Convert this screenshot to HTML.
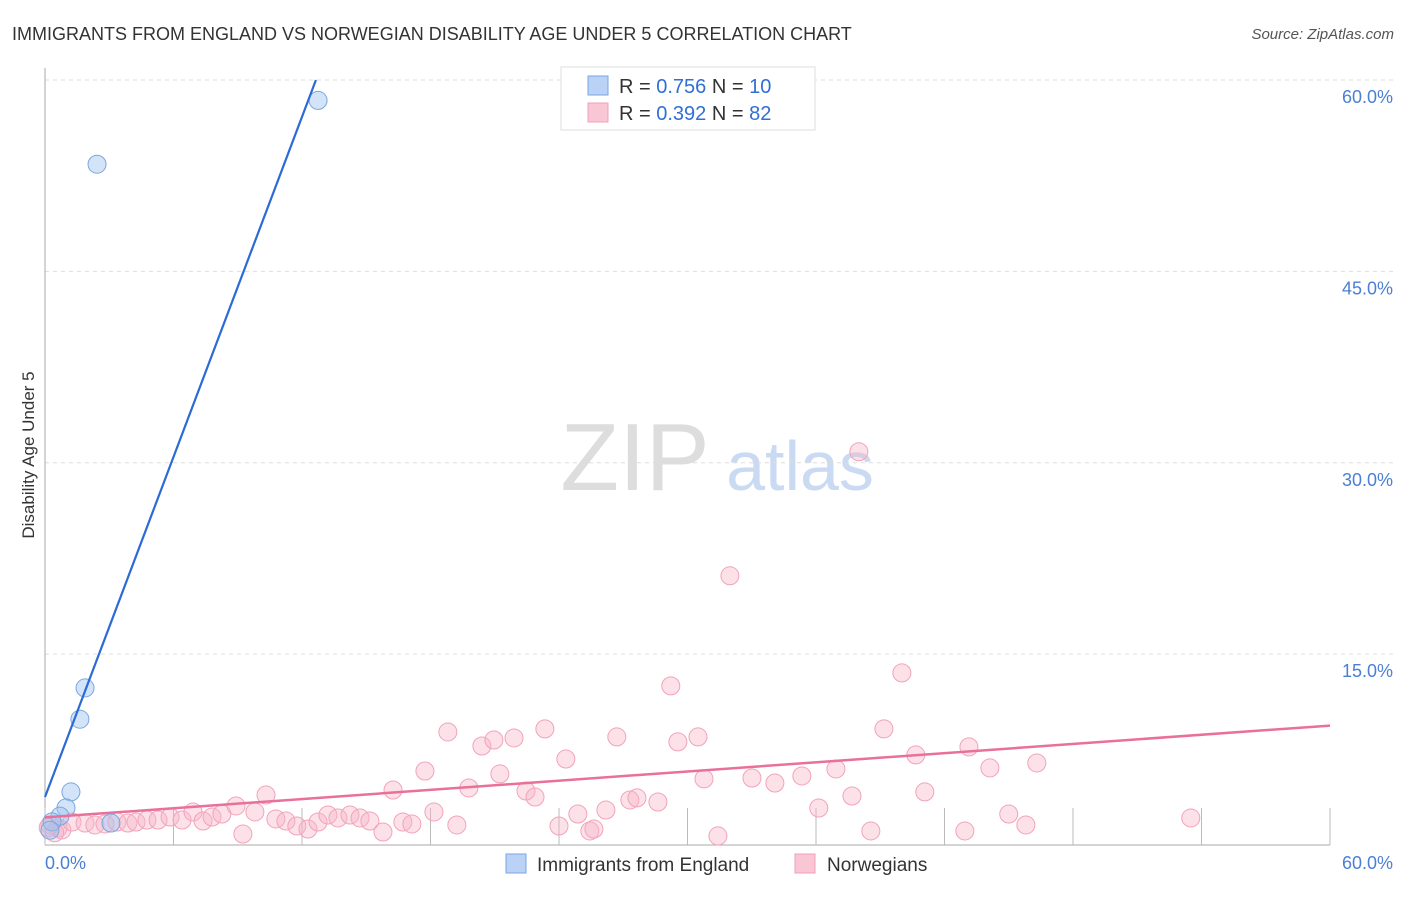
<!DOCTYPE html>
<html><head><meta charset="utf-8"><style>
body{margin:0;background:#fff;font-family:"Liberation Sans",sans-serif;}
svg text{font-family:"Liberation Sans",sans-serif;}
</style></head><body>
<svg id="chart" width="1406" height="892" viewBox="0 0 1406 892" xmlns="http://www.w3.org/2000/svg">
<text x="12" y="40" font-size="18" fill="#333">IMMIGRANTS FROM ENGLAND VS NORWEGIAN DISABILITY AGE UNDER 5 CORRELATION CHART</text>
<text x="1394" y="39" font-size="15" fill="#555" font-style="italic" text-anchor="end">Source: ZipAtlas.com</text>
<text transform="translate(34,455) rotate(-90)" font-size="17" fill="#333" text-anchor="middle">Disability Age Under 5</text>
<g>
<text x="635" y="490" font-size="96" fill="#ddd" font-family="Liberation Serif" text-anchor="middle">ZIP</text>
<text x="800" y="490" font-size="70" fill="#c9daf2" text-anchor="middle">atlas</text>
</g>
<g id="grid"></g><g id="axes"></g><g id="marks"></g>
<g>
<rect x="561" y="67" width="254" height="63" fill="#fff" stroke="#ddd"/>
<rect x="588" y="76" width="20" height="19" fill="#b9d2f5" stroke="#7aa6e0"/>
<text x="619" y="93" font-size="20" fill="#333">R = <tspan fill="#2f6fd6">0.756</tspan>   N = <tspan fill="#2f6fd6">10</tspan></text>
<rect x="588" y="103" width="20" height="19" fill="#f9c6d5" stroke="#f0a0b8"/>
<text x="619" y="120" font-size="20" fill="#333">R = <tspan fill="#2f6fd6">0.392</tspan>   N = <tspan fill="#2f6fd6">82</tspan></text>
</g>
<g>
<rect x="506" y="854" width="20" height="19" fill="#b9d2f5" stroke="#7aa6e0"/>
<text x="537" y="871" font-size="19" fill="#333">Immigrants from England</text>
<rect x="795" y="854" width="20" height="19" fill="#f9c6d5" stroke="#f0a0b8"/>
<text x="827" y="871" font-size="19" fill="#333">Norwegians</text>
</g>
</svg>
<script>
const yTicks=[15,30,45,60];
const yTickLabels=["15.0%","30.0%","45.0%","60.0%"];
const xTickLabels=["0.0%","60.0%"];
const englandX=[12.75,2.43,1.87,1.63,1.21,0.98,0.7,0.33,3.08,0.23];
const englandY=[58.4,53.4,12.35,9.9,4.2,2.95,2.3,1.85,1.76,1.2];
const norX=[0.23,0.61,0.79,1.26,1.87,2.33,2.80,3.36,3.87,4.25,4.76,5.28,5.84,6.40,6.91,7.38,7.80,8.26,8.92,9.24,9.80,10.32,10.78,11.25,11.76,12.28,12.75,13.21,13.68,14.24,14.71,15.17,15.78,16.25,16.71,17.13,17.74,18.16,18.81,19.23,19.79,20.40,20.96,21.24,21.90,22.46,22.88,23.34,24.00,24.32,24.88,25.44,25.63,26.19,26.70,27.31,27.64,28.62,29.22,29.55,30.49,30.77,31.42,31.98,33.01,34.08,35.34,36.13,36.93,37.68,38.00,38.56,39.17,40.01,40.66,41.08,42.95,43.14,44.12,45.00,45.80,46.31,53.50,0.45,0.15];
const norY=[1.61,1.37,1.22,1.84,1.76,1.61,1.69,1.84,1.76,1.84,2.0,2.0,2.23,2.0,2.63,1.92,2.23,2.47,3.10,0.90,2.63,3.96,2.08,1.92,1.53,1.29,1.84,2.39,2.16,2.39,2.16,1.92,1.06,4.35,1.84,1.69,5.84,2.63,8.90,1.61,4.51,7.80,8.27,5.61,8.43,4.27,3.80,9.14,1.53,6.78,2.47,1.14,1.29,2.78,8.51,3.57,3.73,3.41,12.51,8.12,8.51,5.22,0.75,21.14,5.29,4.90,5.45,2.94,6.0,3.88,30.86,1.14,9.14,13.53,7.10,4.20,1.14,7.73,6.08,2.47,1.61,6.47,2.16,1.0,1.4];
const englandLine=[[0,3.8],[12.65,60]];
const norLine=[[0,2.2],[60,9.4]];
const NS="http://www.w3.org/2000/svg";
const sx=v=>45+v*(1285/60);
const sy=v=>845.5-v*(765.5/60);
function mk(tag,attrs,parent){const e=document.createElementNS(NS,tag);for(const k in attrs)e.setAttribute(k,attrs[k]);parent.appendChild(e);return e;}
const grid=document.getElementById('grid'),axes=document.getElementById('axes'),marks=document.getElementById('marks');
yTicks.forEach((t,i)=>{
 const l=mk('line',{x1:45,x2:1395,y1:sy(t),y2:sy(t),stroke:'#ddd','stroke-dasharray':'4,4'},grid);
 
 
 const tx=mk('text',{x:1393,y:sy(t)+23,'font-size':18,fill:'#4a7fd4','text-anchor':'end'},axes);
 tx.textContent=yTickLabels[i];
 
 
});
const ya=mk('line',{x1:45,x2:45,y1:68,y2:845,stroke:'#aaa'},axes);


const xa=mk('line',{x1:45,x2:1330,y1:845,y2:845,stroke:'#aaa'},axes);


for(let i=0;i<=10;i++){
 const t=mk('line',{x1:sx(i*6),x2:sx(i*6),y1:808,y2:845,stroke:'#bbb'},axes);
 
 
}
[[0,'start',45],[60,'end',1393]].forEach((p,i)=>{
 const tx=mk('text',{x:p[2],y:869,'font-size':18,fill:'#4a7fd4','text-anchor':p[1]},axes);
 tx.textContent=xTickLabels[i];
 
 
});
norX.forEach((x,i)=>{
 const c=mk('circle',{cx:sx(x),cy:sy(norY[i]),r:9,fill:'rgba(248,180,200,0.4)',stroke:'#f2a3bb','stroke-width':1},marks);
 
 
});
englandX.forEach((x,i)=>{
 const c=mk('circle',{cx:sx(x),cy:sy(englandY[i]),r:9,fill:'rgba(160,195,240,0.45)',stroke:'#7aa6e0','stroke-width':1},marks);
 
 
});
const bl=mk('line',{x1:sx(englandLine[0][0]),y1:sy(englandLine[0][1]),x2:sx(englandLine[1][0]),y2:sy(englandLine[1][1]),stroke:'#2c6ad6','stroke-width':2.2},marks);


const pl=mk('line',{x1:sx(norLine[0][0]),y1:sy(norLine[0][1]),x2:sx(norLine[1][0]),y2:sy(norLine[1][1]),stroke:'#e8709a','stroke-width':2.5},marks);


</script>
</body></html>
